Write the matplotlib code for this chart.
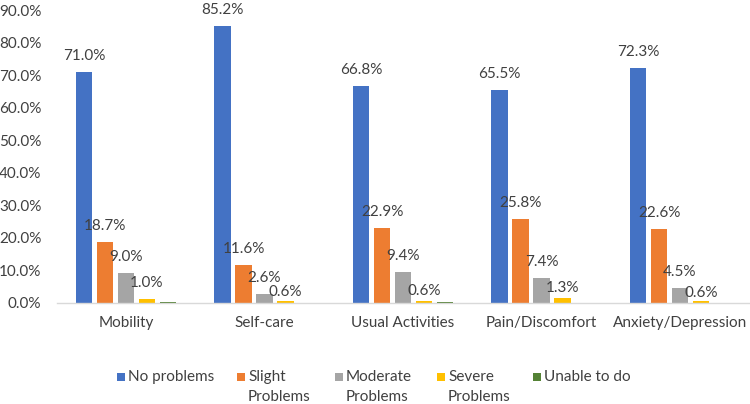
import matplotlib
matplotlib.use("Agg")
import matplotlib.pyplot as plt
from matplotlib.patches import Rectangle
from matplotlib.transforms import offset_copy
import numpy as np

categories = ["Mobility", "Self-care", "Usual Activities", "Pain/Discomfort", "Anxiety/Depression"]
series_names = ["No problems", "Slight\nProblems", "Moderate\nProblems", "Severe\nProblems", "Unable to do"]
no_problems = [71.0, 85.2, 66.8, 65.5, 72.3]
slight = [18.7, 11.6, 22.9, 25.8, 22.6]
moderate = [9.0, 2.6, 9.4, 7.4, 4.5]
severe = [1.0, 0.6, 0.6, 1.3, 0.6]
unable = [0.3, 0.0, 0.2, 0.0, 0.0]
yticks = [0, 10, 20, 30, 40, 50, 60, 70, 80, 90]

series = [no_problems, slight, moderate, severe, unable]
show_labels = [True, True, True, True, False]
colors = ["#4472C4", "#ED7D31", "#A5A5A5", "#FFC000", "#548235"]
# label centre distance above bar top, in pixels (style)
label_gap = [[16] * 5, [16] * 5, [16] * 5, [16, 9, 10, 10, 8], [16] * 5]

plt.rcParams['font.family'] = ['Lato', 'DejaVu Sans']
txt = "#404040"
fs = 11

W, H = 750, 404
fig = plt.figure(figsize=(7.5, 4.04), dpi=100)
ax = fig.add_axes([56.75 / W, 1 - 302.5 / H, (749.25 - 56.75) / W, (302.5 - 10.5) / H])

x = np.arange(len(categories))
step = 0.1516
bw = 0.119
for i, (vals, c) in enumerate(zip(series, colors)):
    pos = x + (i - 2) * step
    ax.bar(pos, vals, width=bw, color=c, zorder=2)
    if show_labels[i]:
        for j, (p, v) in enumerate(zip(pos, vals)):
            ax.annotate(f"{v:.1f}%", (p, v), xytext=(0, label_gap[i][j] * 72 / 100),
                        textcoords="offset points", ha="center", va="center",
                        fontsize=fs, color=txt)

ax.set_xlim(-0.5, len(categories) - 0.5)
ax.set_ylim(0, 90)
ax.set_yticks(yticks)
ax.set_yticklabels([f"{t:.1f}%" for t in yticks])
ax.set_xticks(x)
ax.set_xticklabels(categories)
ax.tick_params(axis="both", length=0, labelsize=fs, colors=txt)
ax.tick_params(axis="y", pad=11)
ax.tick_params(axis="x", pad=10)
for s in ["top", "right", "left"]:
    ax.spines[s].set_visible(False)
ax.spines["bottom"].set_color("#D9D9D9")
ax.spines["bottom"].set_linewidth(1.0)

# legend
marker_x = [117, 237, 335, 437, 533]
y1, y2 = 377, 397
for mx, name, c in zip(marker_x, series_names, colors):
    fig.patches.append(Rectangle((mx / W, 1 - (y1 + 4) / H), 8 / W, 8 / H,
                                 transform=fig.transFigure, facecolor=c, edgecolor="none"))
    lines = name.split("\n")
    for k, ln in enumerate(lines):
        fig.text((mx + 11) / W, 1 - (y1 + k * (y2 - y1)) / H, ln, ha="left", va="center",
                 fontsize=fs, color=txt)

fig.savefig("out.png", dpi=100)
